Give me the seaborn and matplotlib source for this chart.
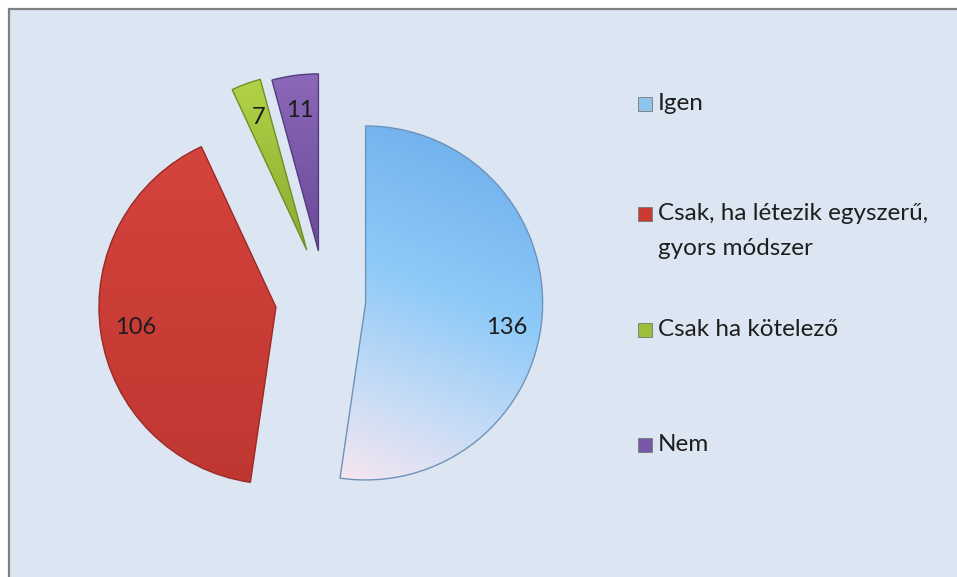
import numpy as np
import matplotlib
matplotlib.use('Agg')
import matplotlib.pyplot as plt
from matplotlib.patches import Rectangle, PathPatch
from matplotlib.colors import LinearSegmentedColormap
import seaborn as sns

# ---- data ----
categories = ['Igen', 'Csak, ha létezik egyszerű,\ngyors módszer', 'Csak ha kötelező', 'Nem']
values = [136, 106, 7, 11]

# ---- style ----
RADIUS = 177
explode_frac = [0.23, 0.28, 0.30, 0.28]
base_colors = ['#8cc6f6', '#cf3f3a', '#9dc33c', '#7b5ca8']
edge_colors = ['#6f93b8', '#9a2c27', '#6f8f25', '#553c80']
grad_stops = [
    [(0.0, '#6cadec'), (0.45, '#8fcaf8'), (0.75, '#c6dcf6'), (1.0, '#f6e6f0')],
    [(0.0, '#d5433d'), (1.0, '#c03731')],
    [(0.0, '#b2d247'), (1.0, '#86ad32')],
    [(0.0, '#8b68b8'), (1.0, '#6a4a98')],
]
legend_colors = ['#8ec4ec', '#c93a35', '#9bbf3b', '#7858a8']

sns.set_theme(style='white')
plt.rcParams['font.family'] = ['Lato', 'DejaVu Sans']

W, H = 957, 577
fig = plt.figure(figsize=(W / 100, H / 100), dpi=100)
fig.patch.set_facecolor('white')
ax = fig.add_axes([0, 0, 1, 1])

total = sum(values)
wedges, texts, autotexts = ax.pie(
    values, explode=[e * RADIUS for e in explode_frac], colors=base_colors,
    startangle=90, counterclock=False, center=(325, H - 300), radius=RADIUS,
    autopct=lambda p: f'{p * total / 100:.0f}', pctdistance=0.8,
    wedgeprops=dict(linewidth=0), textprops=dict(fontsize=17, color='#1c1c1c'))

# background panel
ax.add_patch(Rectangle((9, -50), W + 50, H - 9 + 50, facecolor='#dce6f2',
                       edgecolor='#808080', linewidth=1.6, zorder=0))

# gradient fill clipped to each wedge + outline
for k, (w, stops, ec) in enumerate(zip(wedges, grad_stops, edge_colors)):
    w.set_zorder(1)
    bb = w.get_path().get_extents()
    x0, y0, x1, y1 = bb.x0, bb.y0, bb.x1, bb.y1
    xs = np.linspace(0, 1, 200)
    ys = np.linspace(0, 1, 300)
    XX, YY = np.meshgrid(xs, ys)
    tv = 1 - YY  # 0 at top, 1 at bottom (origin lower)
    if k == 0:
        t = np.clip(0.85 * tv + 0.2 * (1 - XX) - 0.05, 0, 1)
    else:
        t = tv
    cmap = LinearSegmentedColormap.from_list('g', stops)
    im = ax.imshow(cmap(t), extent=(x0, x1, y0, y1), origin='lower',
                   aspect='auto', interpolation='bilinear', zorder=1.5)
    im.set_clip_path(w)
    ax.add_patch(PathPatch(w.get_path(), transform=w.get_transform(), fill=False,
                           edgecolor=ec, linewidth=1.0, zorder=2))

for t in autotexts:
    t.set_zorder(3)
# Igen label sits a little lower in the original
x, y = autotexts[0].get_position()
autotexts[0].set_position((x, y - 14))

# legend (manual, first line aligned with marker)
baselines = [110, 220, 336, 451]
line_gap = 35
for lab, col, b in zip(categories, legend_colors, baselines):
    ax.add_patch(Rectangle((638, H - (b - 6) - 7), 14, 14, facecolor=col,
                           edgecolor='#777777', linewidth=0.6, zorder=3))
    for i, line in enumerate(lab.split('\n')):
        ax.text(658, H - (b + i * line_gap), line, fontsize=17.5, color='#1e1e1e',
                va='baseline', ha='left', zorder=3)

ax.set_xlim(0, W)
ax.set_ylim(0, H)
ax.set_aspect('auto')
ax.axis('off')

fig.savefig('out.png', dpi=100, facecolor='white')
